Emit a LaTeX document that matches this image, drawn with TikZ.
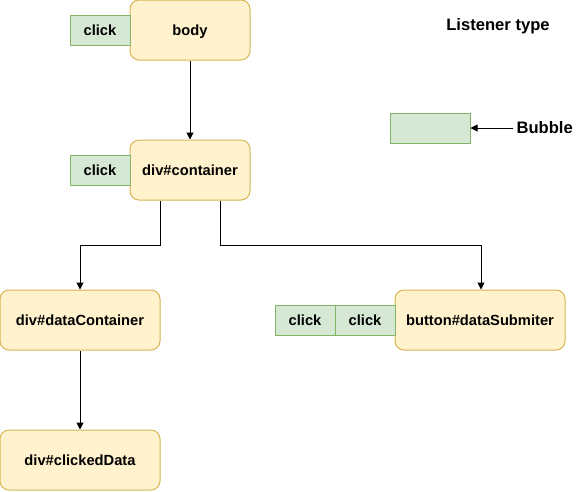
\documentclass[tikz,border=0pt]{standalone}
\usepackage{fontspec}
\setmainfont{Liberation Sans}
\usetikzlibrary{arrows.meta}
\definecolor{elemfill}{HTML}{FFF2CC}
\definecolor{elemdraw}{HTML}{D6B656}
\definecolor{clickfill}{HTML}{D5E8D4}
\definecolor{clickdraw}{HTML}{82B366}
\tikzset{
  element/.style = {draw=elemdraw, fill=elemfill, line width=1pt, rounded corners=9pt,
    minimum height=60pt, inner sep=0pt, text height=12pt, text depth=1.5pt,
    font=\fontsize{14.7}{17}\selectfont\bfseries},
  listener/.style = {draw=clickdraw, fill=clickfill, line width=1pt,
    minimum width=60pt, minimum height=30pt, inner sep=0pt, text height=12pt, text depth=1.5pt,
    font=\fontsize{14.7}{17}\selectfont\bfseries},
  legendtext/.style = {text height=13.4pt, text depth=1.5pt, font=\fontsize{16.6}{19}\selectfont\bfseries},
  EdgeStyle/.style = {line width=1pt, -{Triangle[length=7pt,width=7pt]}}
}
\begin{document}
\begin{tikzpicture}[x=1pt,y=-1pt]
      \useasboundingbox (0,0) rectangle (581,491);
      % Vertices
      \node[element, minimum width=120pt] (body) at (190,30) {body};
      \node[listener] (clickBody) at (100,30) {click};
      \node[element, minimum width=120pt] (container) at (190,170) {div\#container};
      \node[listener] (clickContainer) at (100,170) {click};
      \node[element, minimum width=160pt] (dataContainer) at (80,320) {div\#dataContainer};
      \node[element, minimum width=170pt] (submiter) at (480,320) {button\#dataSubmiter};
      \node[listener] (clickSubA) at (305,320) {click};
      \node[listener] (clickSubB) at (365,320) {click};
      \node[element, minimum width=160pt] (clickedData) at (80,460) {div\#clickedData};

      % Legend
      \node[legendtext] (listenerType) at (498,25) {Listener type};
      \node[listener, minimum width=80pt] (bubbleBox) at (430,128) {};
      \node[legendtext, anchor=west] (bubble) at (513,128) {Bubble};

      % Edges
      \draw[EdgeStyle] (body) -- (container);
      \draw[EdgeStyle] ([xshift=-30pt]container.south) -- ++(0,45) -| (dataContainer.north);
      \draw[EdgeStyle] ([xshift=30pt]container.south) -- ++(0,45) -| ([xshift=1pt]submiter.north);
      \draw[EdgeStyle] (dataContainer) -- (clickedData);
      \draw[EdgeStyle] (bubble.west) -- (bubbleBox.east);
    \end{tikzpicture}
\end{document}
